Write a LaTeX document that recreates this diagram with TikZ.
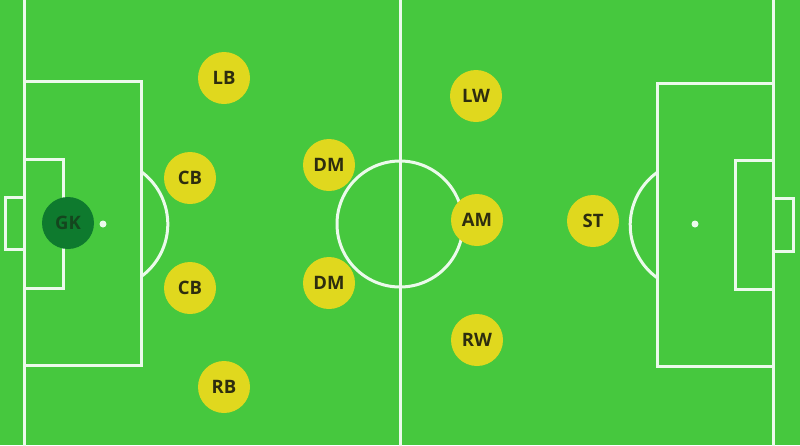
\documentclass[tikz,border=0pt]{standalone}
\usepackage{fontspec}
\setmainfont{Open Sans}
\definecolor{pitch}{RGB}{70,200,62}
\definecolor{lineW}{RGB}{235,250,235}
\definecolor{ply}{RGB}{224,216,30}
\definecolor{gkc}{RGB}{14,122,46}
\definecolor{txt}{RGB}{45,45,15}
\definecolor{gktxt}{RGB}{20,70,30}
\tikzset{
  mark line/.style={draw=lineW, line width=3pt},
  player/.style={circle, fill=ply, minimum size=52pt, inner sep=0pt, text=txt, font=\fontsize{18.5}{18.5}\selectfont\bfseries},
  keeper/.style={player, fill=gkc, text=gktxt},
  spotdot/.style={circle, fill=lineW, minimum size=7pt, inner sep=0pt}
}
\begin{document}
\begin{tikzpicture}[x=1pt,y=-1pt]
\fill[pitch] (0,0) rectangle (800,445);
\useasboundingbox (0,0) rectangle (800,445);
% touchlines / halfway
\draw[mark line] (24,-5) -- (24,450);
\draw[mark line] (773,-5) -- (773,450);
\draw[mark line] (400,-5) -- (400,450);
% centre circle
\draw[mark line] (400,224) circle[radius=63];
% left penalty area
\draw[mark line] (24,81) -- (141,81) -- (141,365) -- (24,365);
\draw[mark line] (24,159) -- (63,159) -- (63,288) -- (24,288);
\draw[mark line] (24,197) -- (5,197) -- (5,249) -- (24,249);
\draw[mark line] (141,171.5) arc[start angle=-54, end angle=54, radius=65];
% right penalty area
\draw[mark line] (773,83) -- (657,83) -- (657,366) -- (773,366);
\draw[mark line] (773,160) -- (735,160) -- (735,289) -- (773,289);
\draw[mark line] (773,198) -- (793,198) -- (793,251) -- (773,251);
\draw[mark line] (657,172.5) arc[start angle=234, end angle=126, radius=65];
% spots
\node[spotdot] (lspot) at (103,224) {};
\node[spotdot] (rspot) at (695,224) {};
% players
\node[keeper] (gk) at (68,223) {GK};
\node[player] (lb) at (224,78) {LB};
\node[player] (cb1) at (190,178) {CB};
\node[player] (cb2) at (190,288) {CB};
\node[player] (rb) at (224,387) {RB};
\node[player] (dm1) at (329,165) {DM};
\node[player] (dm2) at (329,283) {DM};
\node[player] (lw) at (476,96) {LW};
\node[player] (am) at (477,220) {AM};
\node[player] (rw) at (477,340) {RW};
\node[player] (st) at (593,221) {ST};
\end{tikzpicture}
\end{document}
